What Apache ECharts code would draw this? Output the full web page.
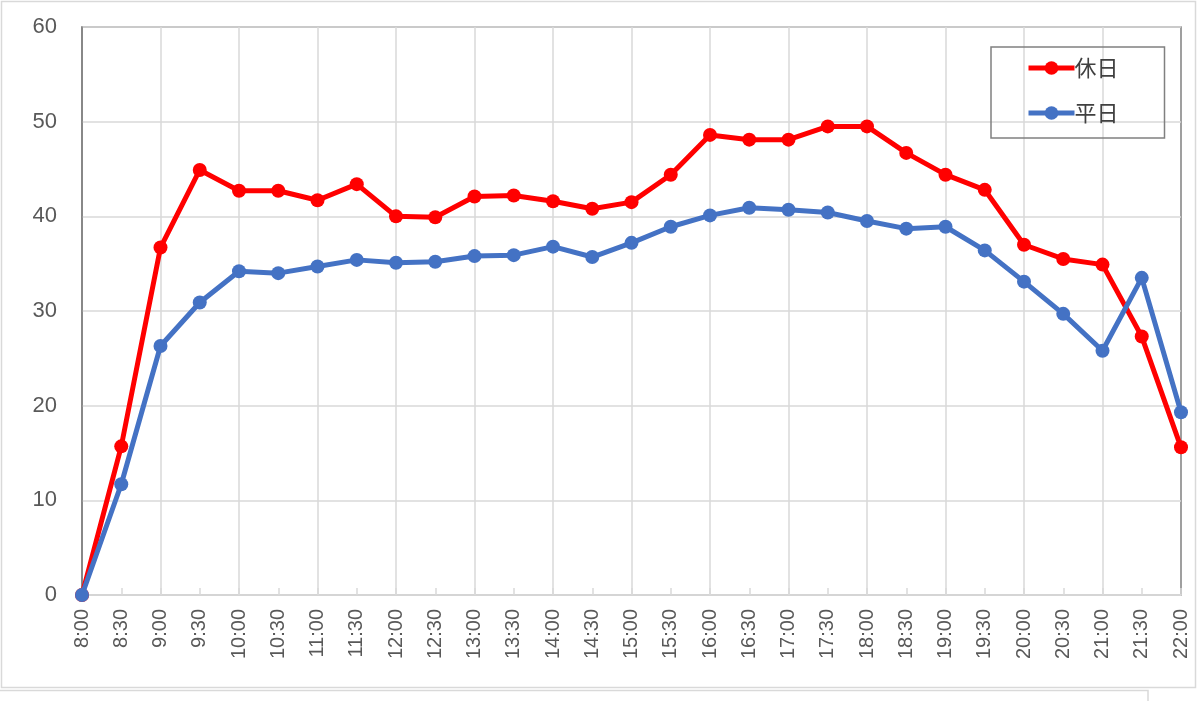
<!DOCTYPE html>
<html><head><meta charset="utf-8">
<script src="https://cdn.jsdelivr.net/npm/echarts@6/dist/echarts.min.js"></script>
<style>html,body{margin:0;padding:0;background:#fff}#c{width:1200px;height:701px}</style>
</head><body><div id="c"></div>
<script>
const categories = ['8:00','8:30','9:00','9:30','10:00','10:30','11:00','11:30','12:00','12:30','13:00','13:30','14:00','14:30','15:00','15:30','16:00','16:30','17:00','17:30','18:00','18:30','19:00','19:30','20:00','20:30','21:00','21:30','22:00'];
const holiday = [0,15.7,36.7,44.9,42.7,42.7,41.7,43.4,40.0,39.9,42.1,42.2,41.6,40.8,41.5,44.4,48.6,48.1,48.1,49.5,49.5,46.7,44.4,42.8,37.0,35.5,34.9,27.3,15.6];
const weekday = [0,11.7,26.3,30.9,34.2,34.0,34.7,35.4,35.1,35.2,35.8,35.9,36.8,35.7,37.2,38.9,40.1,40.9,40.7,40.4,39.5,38.7,38.9,36.4,33.1,29.7,25.8,33.5,19.3];
const yTicks = {min: 0, max: 60, interval: 10};

const chart = echarts.init(document.getElementById('c'), null, {renderer: 'canvas'});
const font = '"Liberation Sans", "Noto Sans CJK JP", sans-serif';
const cjk = '"Noto Sans CJK JP", sans-serif';
chart.setOption({
  animation: false,
  backgroundColor: '#fff',
  textStyle: {fontFamily: font},
  graphic: [
    {type: 'rect', shape: {x: 1.5, y: 1.5, width: 1194, height: 686}, style: {fill: 'none', stroke: '#d9d9d9', lineWidth: 1.5}, z: -1},
    {type: 'rect', shape: {x: -2, y: 690.5, width: 1150, height: 14}, style: {fill: 'none', stroke: '#d9d9d9', lineWidth: 1.5}, z: -1}
  ],
  grid: {left: 82, right: 19, top: 27, bottom: 106, show: true, borderColor: '#808080', borderWidth: 1.5, containLabel: false},
  legend: {
    orient: 'vertical', left: 991, top: 47,
    padding: [10, 46, 14, 35],
    itemWidth: 46, itemHeight: 17, itemGap: 23,
    borderColor: '#808080', borderWidth: 1.5,
    lineStyle: {width: 5},
    textStyle: {fontSize: 22, color: '#404040', fontFamily: cjk, padding: [0, 0, 0, -5]},
    data: ['休日', '平日']
  },
  xAxis: {
    type: 'category', data: categories, boundaryGap: false,
    axisLine: {lineStyle: {color: '#d9d9d9', width: 1.5}},
    axisTick: {show: true, inside: true, length: 7, interval: 0, lineStyle: {color: '#d9d9d9', width: 1.5}},
    axisLabel: {rotate: 90, interval: 0, fontSize: 20, color: '#595959', margin: 14, fontFamily: font},
    splitLine: {show: true, interval: function (i) { return i % 2 === 0 && i > 0 && i < categories.length - 1; }, lineStyle: {color: '#d9d9d9', width: 1.5}}
  },
  yAxis: {
    type: 'value', min: yTicks.min, max: yTicks.max, interval: yTicks.interval,
    axisLine: {show: true, lineStyle: {color: '#808080', width: 1.5}},
    axisTick: {show: false},
    axisLabel: {fontSize: 22, color: '#595959', margin: 25, fontFamily: font},
    splitLine: {show: true, lineStyle: {color: '#d9d9d9', width: 1.5}}
  },
  series: [
    {name: '休日', type: 'line', data: holiday, color: '#ff0000', symbol: 'circle', symbolSize: 14,
     lineStyle: {width: 5, color: '#ff0000'}, itemStyle: {color: '#ff0000'}, z: 3},
    {name: '平日', type: 'line', data: weekday, color: '#4472c4', symbol: 'circle', symbolSize: 14,
     lineStyle: {width: 5, color: '#4472c4'}, itemStyle: {color: '#4472c4'}, z: 4}
  ]
});
</script></body></html>
